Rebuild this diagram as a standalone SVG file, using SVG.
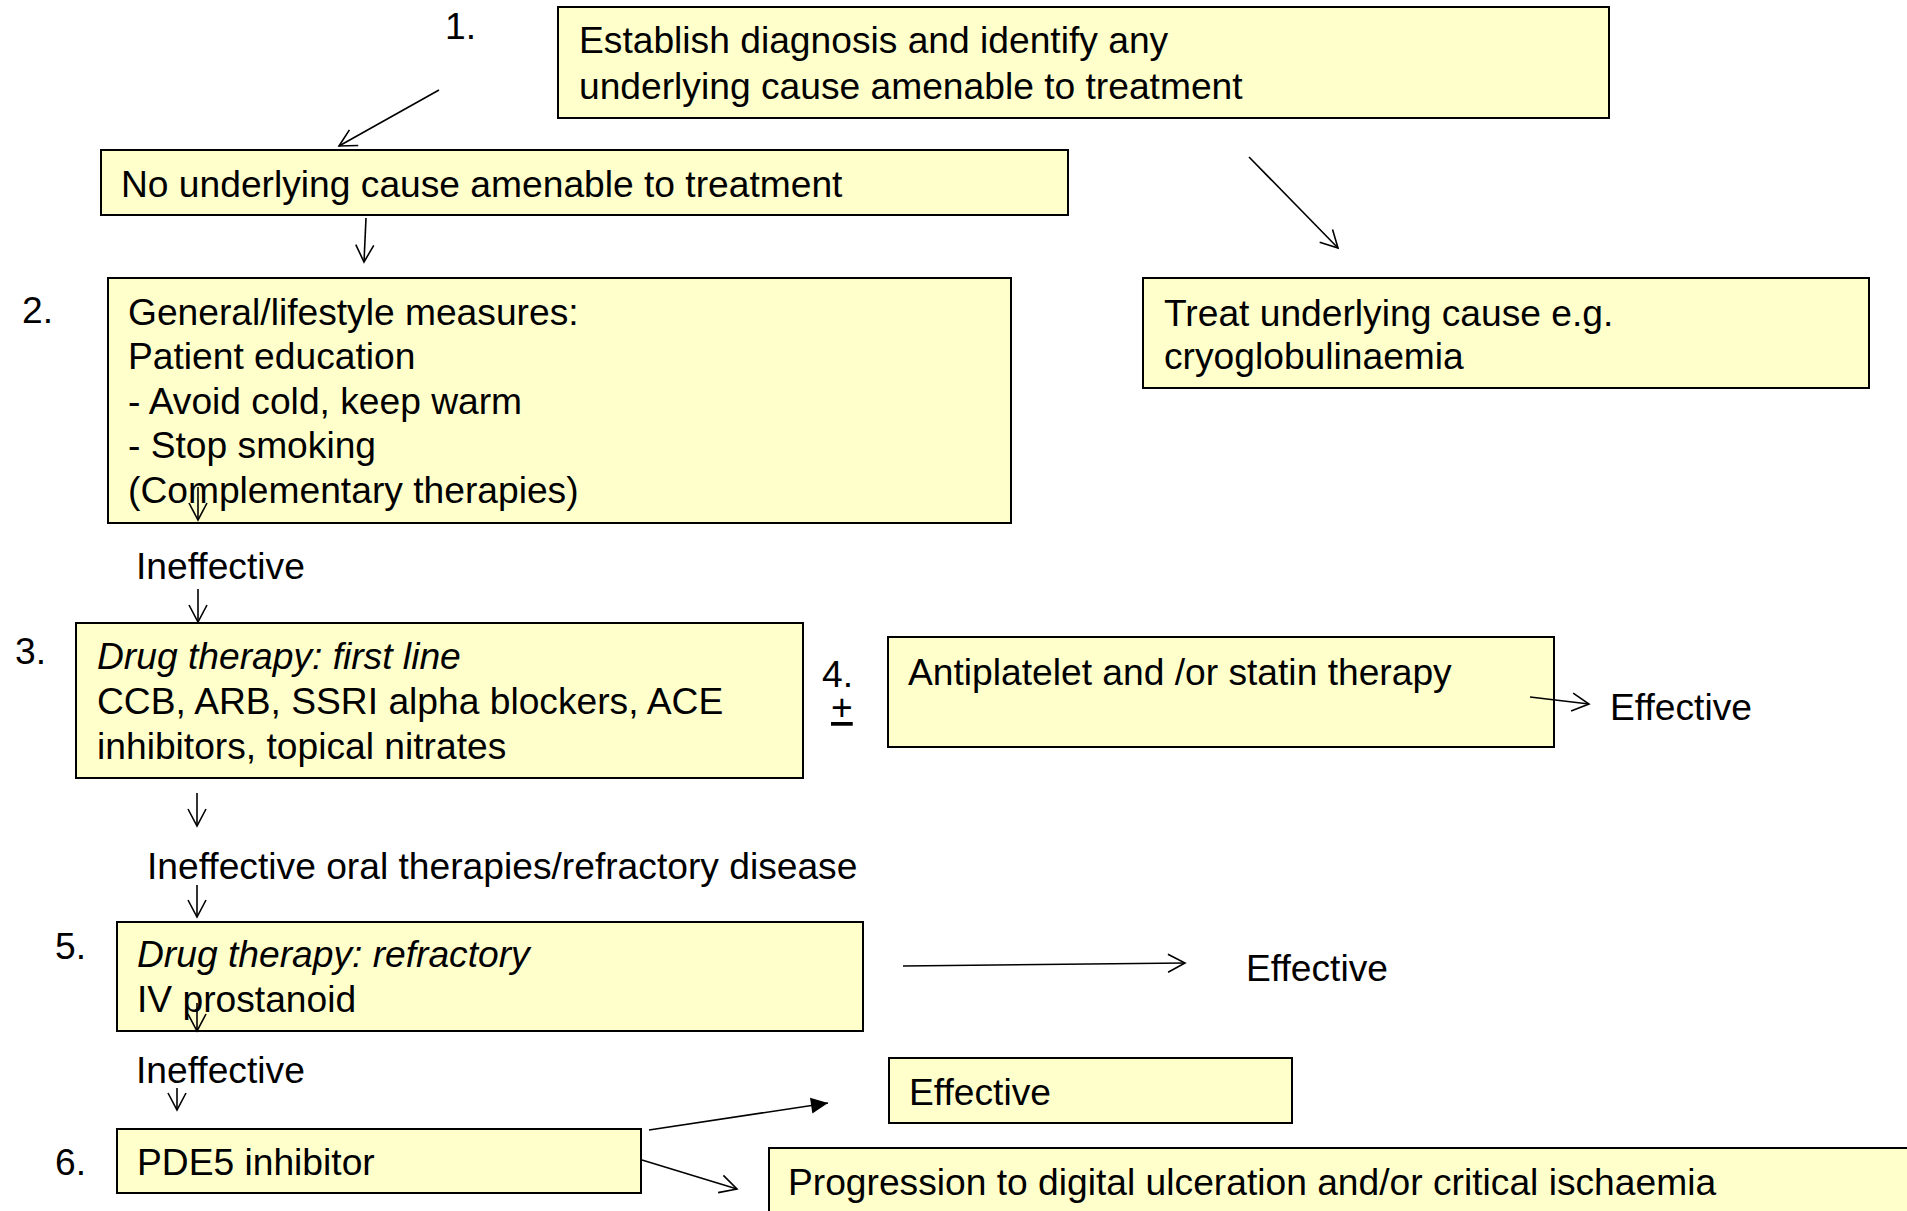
<svg xmlns="http://www.w3.org/2000/svg" width="1907" height="1211" viewBox="0 0 1907 1211">
<style>
  .box { fill: #FFFFCC; stroke: #000; stroke-width: 2; }
  .t { font-family: "Liberation Sans", Arial, sans-serif; font-size: 37.2px; fill: #000; }
  .i { font-style: italic; }
  .c { stroke: #000; stroke-width: 1.6; fill: none; }
</style>
<defs>
  <marker id="open" markerUnits="userSpaceOnUse" markerWidth="24" markerHeight="24" viewBox="-20 -12 22 24" refX="0" refY="0" orient="auto">
    <path d="M-17,-9 L0,0 L-17,9" fill="none" stroke="#000" stroke-width="1.6"/>
  </marker>
  <marker id="filled" markerUnits="userSpaceOnUse" markerWidth="24" markerHeight="24" viewBox="-20 -12 22 24" refX="0" refY="0" orient="auto">
    <path d="M-17,-8 L0,0 L-17,8 Z" fill="#000"/>
  </marker>
</defs>
<rect width="1907" height="1211" fill="#fff"/>

<g id="labels">
  <text class="t" x="445" y="39">1.</text>
  <text class="t" x="22" y="323">2.</text>
  <text class="t" x="15" y="664">3.</text>
  <text class="t" x="822" y="687">4.</text>
  <text class="t" x="831" y="720" text-decoration="underline">+</text>
  <text class="t" x="55" y="959">5.</text>
  <text class="t" x="55" y="1175">6.</text>
</g>

<g id="n1">
  <rect class="box" x="558" y="7" width="1051" height="111"/>
  <text class="t" x="579" y="53">Establish diagnosis and identify any</text>
  <text class="t" x="579" y="99">underlying cause amenable to treatment</text>
</g>
<g id="n_nocause">
  <rect class="box" x="101" y="150" width="967" height="65"/>
  <text class="t" x="121" y="197">No underlying cause amenable to treatment</text>
</g>
<g id="n2">
  <rect class="box" x="108" y="278" width="903" height="245"/>
  <text class="t" x="128" y="325">General/lifestyle measures:</text>
  <text class="t" x="128" y="369">Patient education</text>
  <text class="t" x="128" y="414">- Avoid cold, keep warm</text>
  <text class="t" x="128" y="458">- Stop smoking</text>
  <text class="t" x="128" y="503">(Complementary therapies)</text>
</g>
<g id="n_treat">
  <rect class="box" x="1143" y="278" width="726" height="110"/>
  <text class="t" x="1164" y="326">Treat underlying cause e.g.</text>
  <text class="t" x="1164" y="369">cryoglobulinaemia</text>
</g>
<g id="l_ineff1">
  <text class="t" x="136" y="579">Ineffective</text>
</g>
<g id="n3">
  <rect class="box" x="76" y="623" width="727" height="155"/>
  <text class="t i" x="97" y="669">Drug therapy: first line</text>
  <text class="t" x="97" y="714">CCB, ARB, SSRI alpha blockers, ACE</text>
  <text class="t" x="97" y="759">inhibitors, topical nitrates</text>
</g>
<g id="n4">
  <rect class="box" x="888" y="637" width="666" height="110"/>
  <text class="t" x="908" y="685">Antiplatelet and /or statin therapy</text>
</g>
<g id="l_eff4">
  <text class="t" x="1610" y="720">Effective</text>
</g>
<g id="l_ineff2">
  <text class="t" x="147" y="879">Ineffective oral therapies/refractory disease</text>
</g>
<g id="n5">
  <rect class="box" x="117" y="922" width="746" height="109"/>
  <text class="t i" x="137" y="967">Drug therapy: refractory</text>
  <text class="t" x="137" y="1012">IV prostanoid</text>
</g>
<g id="l_eff5">
  <text class="t" x="1246" y="981">Effective</text>
</g>
<g id="l_ineff3">
  <text class="t" x="136" y="1083">Ineffective</text>
</g>
<g id="n_eff6">
  <rect class="box" x="889" y="1058" width="403" height="65"/>
  <text class="t" x="909" y="1105">Effective</text>
</g>
<g id="n6">
  <rect class="box" x="117" y="1129" width="524" height="64"/>
  <text class="t" x="137" y="1175">PDE5 inhibitor</text>
</g>
<g id="n_prog">
  <rect class="box" x="769" y="1148" width="1150" height="80"/>
  <text class="t" x="788" y="1195">Progression to digital ulceration and/or critical ischaemia</text>
</g>

<g id="connectors">
  <line class="c" x1="439" y1="90" x2="339" y2="146" marker-end="url(#open)"/>
  <line class="c" x1="1249" y1="157" x2="1338" y2="248" marker-end="url(#open)"/>
  <line class="c" x1="366" y1="218" x2="364" y2="262" marker-end="url(#open)"/>
  <line class="c" x1="198" y1="487" x2="198" y2="520" marker-end="url(#open)"/>
  <line class="c" x1="198" y1="589" x2="198" y2="622" marker-end="url(#open)"/>
  <line class="c" x1="1530" y1="697" x2="1589" y2="704" marker-end="url(#open)"/>
  <line class="c" x1="197" y1="793" x2="197" y2="826" marker-end="url(#open)"/>
  <line class="c" x1="197" y1="885" x2="197" y2="917" marker-end="url(#open)"/>
  <line class="c" x1="903" y1="966" x2="1185" y2="963" marker-end="url(#open)"/>
  <line class="c" x1="197" y1="1003" x2="197" y2="1031" marker-end="url(#open)"/>
  <line class="c" x1="177" y1="1088" x2="177" y2="1110" marker-end="url(#open)"/>
  <line class="c" x1="649" y1="1130" x2="828" y2="1103" stroke-width="2.4" marker-end="url(#filled)"/>
  <line class="c" x1="642" y1="1160" x2="737" y2="1189" stroke-width="2" marker-end="url(#open)"/>
</g>
</svg>
